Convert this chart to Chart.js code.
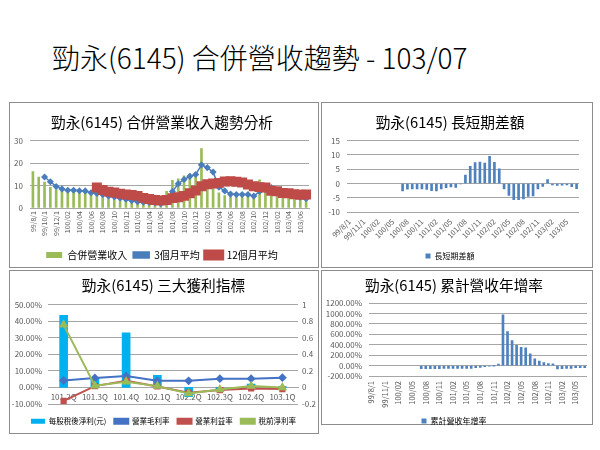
<!DOCTYPE html>
<html>
<head>
<meta charset="utf-8">
<script src="https://cdn.jsdelivr.net/npm/chart.js@4.4.1/dist/chart.umd.min.js"></script>
<style>
body { margin:0; background:#fff; width:600px; height:450px; position:relative; overflow:hidden; font-family:'Noto Sans CJK TC', sans-serif; }
#title { position:absolute; left:52px; top:37px; font-size:28px; font-weight:300; line-height:40px; color:#000; white-space:nowrap; }
.panel { position:absolute; border:1px solid #8c8c8c; box-sizing:border-box; }
canvas { position:absolute; }
</style>
</head>
<body>
<div id="title">勁永(6145) 合併營收趨勢 - 103/07</div>
<div class="panel" style="left:9px;top:102px;width:310px;height:166px"></div>
<div class="panel" style="left:321px;top:102px;width:272px;height:166px"></div>
<div class="panel" style="left:9px;top:270px;width:310px;height:164px"></div>
<div class="panel" style="left:321px;top:270px;width:272px;height:155px"></div>
<canvas id="c1" width="309" height="168" style="left:9px;top:102px"></canvas>
<canvas id="c2" width="271" height="168" style="left:321px;top:102px"></canvas>
<canvas id="c3" width="309" height="165" style="left:9px;top:270px"></canvas>
<canvas id="c4" width="271" height="165" style="left:321px;top:270px"></canvas>
<script>
// months 99/08 .. 103/07
var months = ['99/8/1','99/9/1','99/10/1','99/11/1','99/12/1',
  '100/01','100/02','100/03','100/04','100/05','100/06','100/07','100/08','100/09','100/10','100/11','100/12',
  '101/01','101/02','101/03','101/04','101/05','101/06','101/07','101/08','101/09','101/10','101/11','101/12',
  '102/01','102/02','102/03','102/04','102/05','102/06','102/07','102/08','102/09','102/10','102/11','102/12',
  '103/01','103/02','103/03','103/04','103/05','103/06','103/07'];

var revenue = [16.2,13.8,11.5,9.2,8.2,
  8.0,7.2,8.2,7.5,7.0,6.8,6.0,5.5,5.0,4.5,4.0,3.2,
  2.8,2.5,2.5,2.6,2.3,2.2,7.4,12.3,13.0,14.3,15.2,15.4,
  26.5,9.5,10.0,6.8,5.5,6.2,6.0,6.0,5.5,5.0,12.5,8.5,
  7.0,6.0,5.5,5.8,5.5,4.8,4.2];

var avg3 = [null,null,13.8,11.7,9.6,
  8.5,7.9,7.9,7.7,7.6,6.8,6.5,6.0,5.4,5.0,4.5,3.9,
  3.3,2.8,2.6,2.5,2.4,1.9,3.8,7.3,10.8,12.7,14.1,14.9,
  19.2,18.0,16.0,9.3,7.6,6.2,6.0,6.0,6.0,5.3,7.4,8.1,
  9.1,7.0,6.0,6.0,5.6,4.8,4.2];

var avg12 = [null,null,null,null,null,null,null,null,null,null,null,
  9.1,8.0,7.3,6.9,6.4,6.0,5.8,5.4,4.5,4.0,
  3.6,3.3,3.6,4.4,4.8,5.4,6.6,7.8,9.7,10.6,
  10.9,11.2,11.8,11.9,11.7,11.4,10.5,9.7,9.3,9.1,
  7.7,7.5,6.7,6.6,6.1,5.9,6.0];

var gap = [null,null,null,null,null,null,null,null,null,null,null,
  -2.6,-2.0,-1.9,-1.9,-1.9,-2.1,-2.5,-2.6,-1.9,-1.5,
  -1.2,-1.4,-0.2,2.9,6.0,7.3,7.5,7.1,9.5,7.4,
  5.1,-1.9,-4.2,-5.7,-5.7,-5.4,-4.5,-4.4,-1.9,-1.0,
  1.4,-0.5,-0.7,-0.6,-0.5,-1.1,-1.8];

var growth = [null,null,null,null,null,null,null,null,null,null,null,
  -58,-58,-57,-57,-57,-56,-56,-55,-55,-54,-53,
  -52,-39,-33,-20,-7,-2,30,975,655,482,391,352,339,228,130,85,59,39,33,
  -65,-59,-52,-52,-39,-39,-39];

var quarters = ['101.2Q','101.3Q','101.4Q','102.1Q','102.2Q','102.3Q','102.4Q','103.1Q'];
var eps = [0.87,0.12,0.66,0.145,-0.11,-0.02,0.04,0.01];
var grossMargin = [4.2,5.7,6.9,4.0,4.0,5.3,5.3,5.9];
var opMargin = [-8.1,0.8,4.0,0.6,-3.2,-1.6,-0.6,-1.0];
var pretaxMargin = [37.8,1.0,3.4,0.8,-3.6,-1.2,0.8,0.0];

Chart.defaults.font.family = "'Noto Sans CJK TC', 'Noto Sans', sans-serif";
Chart.defaults.color = '#595959';
Chart.defaults.animation = false;

var gridGray = '#a6a6a6';

function every(n) {
    return function(v, i) { return i % n === 0 ? this.getLabelForValue(v) : null; };
}
function byIndex(a, b) { return a.datasetIndex - b.datasetIndex; }

// chart 1
new Chart(document.getElementById('c1'), {
    data: {
        labels: months,
        datasets: [{
            type: 'bar', label: '合併營業收入', data: revenue,
            backgroundColor: '#9bbb59', barThickness: 2, order: 3
        }, {
            type: 'line', label: '3個月平均', data: avg3,
            borderColor: '#4a7ebb', backgroundColor: '#4a7ebb', borderWidth: 1.5,
            pointStyle: 'rectRot', pointRadius: 2.5, pointBackgroundColor: '#4a7ebb', order: 2
        }, {
            type: 'line', label: '12個月平均', data: avg12,
            borderColor: '#be4b48', backgroundColor: '#be4b48', borderWidth: 5,
            pointStyle: 'rect', pointRadius: 3.5, pointBackgroundColor: '#be4b48', order: 1
        }]
    },
    options: {
        responsive: false,
        layout: { padding: { left: 0, right: 3, top: 0, bottom: 0 } },
        plugins: {
            title: { display: true, text: '勁永(6145) 合併營業收入趨勢分析', color: '#000',
                font: { size: 14.7, weight: 'normal' }, padding: { top: 11.5, bottom: 9.5 } },
            legend: { position: 'bottom', labels: { font: { size: 10 }, color: '#000', boxWidth: 16, boxHeight: 6, padding: 6, sort: byIndex } },
            tooltip: { enabled: false }
        },
        scales: {
            x: { grid: { display: false, drawTicks: false }, border: { color: gridGray },
                ticks: { autoSkip: false, minRotation: 90, maxRotation: 90, font: { size: 7 }, padding: 3, callback: every(2) },
                afterFit: function(s) { s.height = 36; } },
            y: { min: 0, max: 30, ticks: { stepSize: 5, font: { size: 8 }, padding: 7 },
                grid: { color: gridGray, drawTicks: false }, border: { display: false },
                afterFit: function(s) { s.width = 21; } }
        }
    }
});

// chart 2
new Chart(document.getElementById('c2'), {
    type: 'bar',
    data: {
        labels: months,
        datasets: [{ label: '長短期差額', data: gap, backgroundColor: '#4f81bd', barThickness: 2 }]
    },
    options: {
        responsive: false,
        layout: { padding: { left: 0, right: 13, top: 0, bottom: 0 } },
        plugins: {
            title: { display: true, text: '勁永(6145) 長短期差額', color: '#000',
                font: { size: 14.7, weight: 'normal' }, padding: { top: 11.5, bottom: 9.5 } },
            legend: { position: 'bottom', labels: { font: { size: 8 }, color: '#000', boxWidth: 5, boxHeight: 5, padding: 6 } },
            tooltip: { enabled: false }
        },
        scales: {
            x: { grid: { display: false, drawTicks: false }, border: { display: false },
                ticks: { autoSkip: false, minRotation: 45, maxRotation: 45, font: { size: 7.5 }, padding: 5, callback: every(3) },
                afterFit: function(s) { s.height = 34; } },
            y: { min: -10, max: 15, ticks: { stepSize: 5, font: { size: 8 }, padding: 7 },
                grid: { color: gridGray, drawTicks: false }, border: { display: false },
                afterFit: function(s) { s.width = 26; } }
        }
    }
});

// chart 3
new Chart(document.getElementById('c3'), {
    data: {
        labels: quarters,
        datasets: [{
            type: 'bar', label: '每股稅後淨利(元)', data: eps, yAxisID: 'y1',
            backgroundColor: '#00b0f0', barThickness: 8, order: 4
        }, {
            type: 'line', label: '營業毛利率', data: grossMargin, yAxisID: 'y',
            borderColor: '#4472c4', backgroundColor: '#4472c4', borderWidth: 2,
            pointStyle: 'rectRot', pointRadius: 3, pointBackgroundColor: '#4472c4', order: 3
        }, {
            type: 'line', label: '營業利益率', data: opMargin, yAxisID: 'y',
            borderColor: '#c0504d', backgroundColor: '#c0504d', borderWidth: 2,
            pointStyle: 'rect', pointRadius: 3, pointBackgroundColor: '#c0504d', order: 2
        }, {
            type: 'line', label: '稅前淨利率', data: pretaxMargin, yAxisID: 'y',
            borderColor: '#9bbb59', backgroundColor: '#9bbb59', borderWidth: 2,
            pointStyle: 'triangle', pointRadius: 3.5, pointBackgroundColor: '#9bbb59', order: 1
        }]
    },
    options: {
        responsive: false,
        layout: { padding: { left: 0, right: 0, top: 0, bottom: 0 } },
        plugins: {
            title: { display: true, text: '勁永(6145) 三大獲利指標', color: '#000',
                font: { size: 14.7, weight: 'normal' }, padding: { top: 6.5, bottom: 10.5 } },
            legend: { position: 'bottom', labels: { font: { size: 7.5 }, color: '#000', boxWidth: 14, boxHeight: 5, padding: 8, sort: byIndex } },
            tooltip: { enabled: false }
        },
        scales: {
            x: { position: { y: 0 }, grid: { display: false, drawTicks: false }, border: { color: gridGray },
                ticks: { font: { size: 8 }, padding: 5, maxRotation: 0 } },
            // empty strip between plot and legend
            xb: { type: 'category', position: 'bottom', display: true, grid: { display: false, drawTicks: false },
                border: { display: false }, ticks: { display: false },
                afterFit: function(s) { s.height = 5.5; } },
            y: { position: 'left', min: -10, max: 50, grid: { color: gridGray, drawTicks: false }, border: { display: false },
                ticks: { stepSize: 10, font: { size: 8 }, padding: 6, callback: function(v) { return v.toFixed(2) + '%'; } },
                afterFit: function(s) { s.width = 39; } },
            y1: { position: 'right', min: -0.2, max: 1, grid: { display: false, drawTicks: false }, border: { display: false },
                ticks: { stepSize: 0.2, font: { size: 8 }, padding: 4, callback: function(v) { return Math.round(v * 10) / 10; } },
                afterFit: function(s) { s.width = 20; } }
        }
    }
});

// chart 4
new Chart(document.getElementById('c4'), {
    type: 'bar',
    data: {
        labels: months,
        datasets: [{ label: '累計營收年增率', data: growth, backgroundColor: '#4f81bd', barThickness: 2 }]
    },
    options: {
        responsive: false,
        layout: { padding: { left: 0, right: 5, top: 0, bottom: 0 } },
        plugins: {
            title: { display: true, text: '勁永(6145) 累計營收年增率', color: '#000',
                font: { size: 14.7, weight: 'normal' }, padding: { top: 6.5, bottom: 9 } },
            legend: { position: 'bottom', labels: { font: { size: 8 }, color: '#000', boxWidth: 5, boxHeight: 5, padding: 6 } },
            tooltip: { enabled: false }
        },
        scales: {
            x: { grid: { display: false, drawTicks: false }, border: { display: false },
                ticks: { autoSkip: false, minRotation: 90, maxRotation: 90, font: { size: 7.5 }, padding: 5, callback: every(3) },
                afterFit: function(s) { s.height = 35; } },
            y: { min: -200, max: 1200, grid: { color: gridGray, drawTicks: false }, border: { display: false },
                ticks: { stepSize: 200, autoSkip: false, font: { size: 8 }, padding: 7, callback: function(v) { return v.toFixed(2) + '%'; } },
                afterFit: function(s) { s.width = 48; } }
        }
    }
});
</script>
</body>
</html>
